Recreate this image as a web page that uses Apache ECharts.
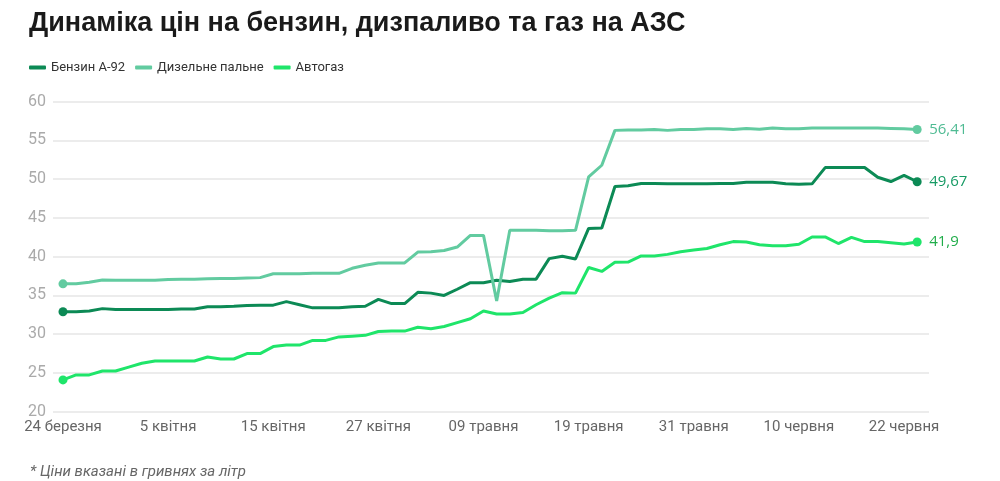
<!DOCTYPE html>
<html>
<head>
<meta charset="utf-8">
<script src="https://cdn.jsdelivr.net/npm/echarts@6/dist/echarts.min.js"></script>
<style>html,body{margin:0;padding:0;background:#fff}#c{width:1000px;height:481px}</style>
</head>
<body>
<div id="c"></div>
<script>
const tickLabels = ['24 березня','5 квітня','15 квітня','27 квітня','09 травня','19 травня','31 травня','10 червня','22 червня'];
const seriesNames = ['Бензин А-92','Дизельне пальне','Автогаз'];
const benzin = [32.9,32.9,33.0,33.3,33.2,33.2,33.2,33.2,33.2,33.25,33.25,33.55,33.55,33.6,33.7,33.75,33.75,34.2,33.8,33.4,33.4,33.4,33.55,33.6,34.5,33.95,33.95,35.4,35.3,35.0,35.8,36.65,36.65,36.95,36.8,37.1,37.1,39.75,40.05,39.7,43.65,43.7,49.05,49.15,49.45,49.45,49.4,49.4,49.4,49.4,49.45,49.45,49.6,49.6,49.6,49.4,49.35,49.4,51.5,51.5,51.5,51.5,50.25,49.7,50.5,49.67];
const diesel = [36.5,36.5,36.7,37.0,36.95,36.95,36.95,36.95,37.05,37.1,37.1,37.15,37.2,37.2,37.25,37.3,37.8,37.8,37.8,37.85,37.85,37.85,38.5,38.9,39.2,39.2,39.2,40.6,40.65,40.8,41.25,42.75,42.75,34.3,43.4,43.4,43.4,43.35,43.35,43.4,50.3,51.8,56.3,56.35,56.35,56.4,56.3,56.4,56.4,56.5,56.5,56.4,56.55,56.45,56.6,56.5,56.5,56.6,56.6,56.6,56.6,56.6,56.6,56.55,56.5,56.41];
const autogas = [24.1,24.75,24.75,25.25,25.25,25.75,26.25,26.55,26.55,26.55,26.55,27.05,26.8,26.8,27.5,27.5,28.4,28.6,28.6,29.2,29.2,29.65,29.75,29.85,30.35,30.4,30.4,30.9,30.7,31.0,31.5,32.0,33.0,32.6,32.6,32.8,33.8,34.65,35.35,35.3,38.6,38.1,39.27,39.3,40.1,40.1,40.3,40.65,40.85,41.05,41.55,41.95,41.9,41.55,41.4,41.4,41.6,42.55,42.55,41.7,42.5,41.95,41.95,41.8,41.65,41.9];
const yTicks = [20,25,30,35,40,45,50,55,60];

const lineColors = ['#0c8a55','#62cba0','#1fe56a'];
const labelColors = ['#169a64','#4fbb93','#20ad4a'];
const allData = [benzin, diesel, autogas];
const tickIdx = tickLabels.map((_, k) => k * 8);

function build(arr) {
  const last = arr.length - 1;
  return arr.map((v, i) => ({ value: [i, v], symbol: (i === 0 || i === last) ? 'circle' : 'none' }));
}

const chart = echarts.init(document.getElementById('c'));
chart.setOption({
  animation: false,
  title: [
    { text: 'Динаміка цін на бензин, дизпаливо та газ на АЗС', left: 24, top: 5,
      textStyle: { fontFamily: 'Liberation Sans', fontWeight: 'bold', fontSize: 27, color: '#1a1a1a' } },
    { text: '* Ціни вказані в гривнях за літр', left: 25, top: 460,
      textStyle: { fontFamily: 'Roboto', fontStyle: 'italic', fontWeight: 'normal', fontSize: 15, color: '#666' } }
  ],
  legend: {
    left: 24, top: 56, itemWidth: 17, itemHeight: 4, itemGap: 10, icon: 'roundRect',
    textStyle: { fontFamily: 'Roboto', fontSize: 13, color: '#333' },
    data: seriesNames
  },
  grid: { left: 53, right: 71, top: 101.7, bottom: 69.3 },
  xAxis: {
    type: 'value', min: -0.76, max: 65.9,
    axisLine: { show: false }, axisTick: { show: false }, splitLine: { show: false },
    axisLabel: {
      customValues: tickIdx, margin: 8,
      formatter: v => tickLabels[Math.round(v / 8)],
      fontFamily: 'Liberation Sans Narrow, Roboto', fontSize: 15, color: '#666'
    }
  },
  yAxis: {
    type: 'value', min: 20, max: 60, interval: 5,
    axisLine: { show: false }, axisTick: { show: false },
    axisLabel: { margin: 7, fontFamily: 'Roboto', fontSize: 16, color: '#aaa' },
    splitLine: { lineStyle: { color: '#e6e6e6', width: 1.5 } }
  },
  series: allData.map((arr, k) => ({
    name: seriesNames[k], type: 'line', data: build(arr),
    showSymbol: true, symbolSize: 9,
    itemStyle: { color: lineColors[k] },
    lineStyle: { color: lineColors[k], width: 3 },
    endLabel: {
      show: true, distance: 12,
      formatter: p => String(p.value[1]).replace('.', ','),
      fontFamily: 'Open Sans', fontSize: 15, color: labelColors[k]
    }
  }))
});
</script>
</body>
</html>
